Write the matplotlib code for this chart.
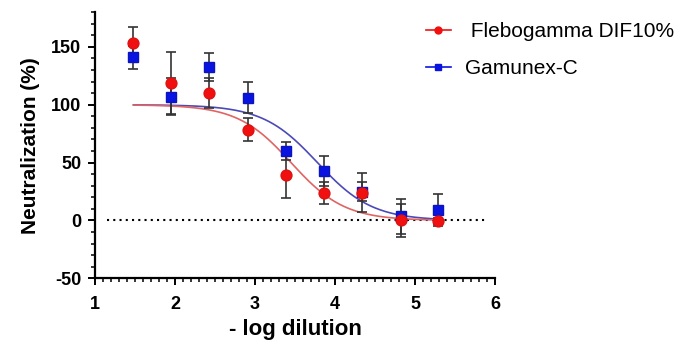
"""
Neutralization curves for two IVIG products vs. -log dilution
"""

import numpy as np
import matplotlib
matplotlib.use('Agg')
import matplotlib.pyplot as plt
from matplotlib.ticker import MultipleLocator

plt.rcParams['font.family'] = ['Liberation Sans', 'DejaVu Sans']
plt.rcParams['axes.unicode_minus'] = False

# Data
log_dilution = [1.48, 1.95, 2.43, 2.91, 3.39, 3.86, 4.34, 4.82, 5.29]

fleb_mean = [153, 119, 110.5, 78.5, 39, 24, 24, 0, -0.5]
fleb_err = [14, 27, 13, 10, 20, 9.5, 17, 14, 3]

gamu_mean = [141, 107, 132.5, 106, 60, 43, 25, 3.5, 9]
gamu_err = [10, 16, 12, 13.5, 7.5, 13, 8, 15, 14]

# Fitted 4PL curve parameters (top, bottom, logIC50, hill slope)
fleb_fit = (100, 0, 3.45, 1.30)
gamu_fit = (100, 0, 3.78, 1.27)

labels = [' Flebogamma DIF10%', 'Gamunex-C']


def sigmoid(x, top, bottom, logic50, hill):
    return bottom + (top - bottom) / (1 + 10 ** (hill * (x - logic50)))


fig = plt.figure(figsize=(6.84, 3.46), dpi=100)
ax = fig.add_axes([0.139, 0.1957, 0.5847, 0.769])

# zero line
ax.plot([1.15, 5.9], [0, 0], color='black', lw=1.5, linestyle=(0, (1, 2)), zorder=1)

xs = np.linspace(log_dilution[0], log_dilution[-1], 300)
ax.plot(xs, sigmoid(xs, *gamu_fit), color='#4a4ab8', lw=1.2, zorder=2)
ax.plot(xs, sigmoid(xs, *fleb_fit), color='#e06464', lw=1.2, zorder=2)

# error bars
ax.errorbar(log_dilution, gamu_mean, yerr=gamu_err, fmt='none', ecolor='#333333',
            elinewidth=1.2, capsize=3.5, capthick=1.2, zorder=3)
ax.errorbar(log_dilution, fleb_mean, yerr=fleb_err, fmt='none', ecolor='#333333',
            elinewidth=1.2, capsize=3.5, capthick=1.2, zorder=3)

# markers
ax.plot(log_dilution, gamu_mean, 's', color='#0a14e0', ms=7.8, mec='#0a14c0', zorder=4)
ax.plot(log_dilution, fleb_mean, 'o', color='#f01010', ms=7.8, mec='#e01010', zorder=5)

# legend handles
h1, = ax.plot([], [], '-o', color='#f01010', ms=5, lw=1.2)
h2, = ax.plot([], [], '-s', color='#0a14e0', ms=5, lw=1.2)
fig.legend([h1, h2], labels, loc='upper left', bbox_to_anchor=(0.595, 0.99),
           frameon=False, fontsize=15, handlelength=1.2, handletextpad=0.7,
           labelspacing=0.85)

# axes
ax.set_xlim(1, 6)
ax.set_ylim(-50, 180)
ax.xaxis.set_major_locator(MultipleLocator(1))
ax.xaxis.set_minor_locator(MultipleLocator(0.1))
ax.yaxis.set_major_locator(MultipleLocator(50))
ax.yaxis.set_minor_locator(MultipleLocator(10))
ax.set_yticks([-50, 0, 50, 100, 150])

for s in ['top', 'right']:
    ax.spines[s].set_visible(False)
for s in ['left', 'bottom']:
    ax.spines[s].set_linewidth(1.6)

ax.tick_params(which='major', length=5, width=1.4, pad=5, labelsize=13)
ax.tick_params(axis='x', which='major', pad=8)
ax.tick_params(which='minor', length=2.8, width=1.1)
for lab in ax.get_xticklabels() + ax.get_yticklabels():
    lab.set_fontweight('bold')

ax.set_xlabel('- log dilution', fontsize=16, fontweight='bold', labelpad=4)
ax.set_ylabel('Neutralization (%)', fontsize=15, fontweight='bold', labelpad=8)

plt.savefig('out.png', dpi=100)
